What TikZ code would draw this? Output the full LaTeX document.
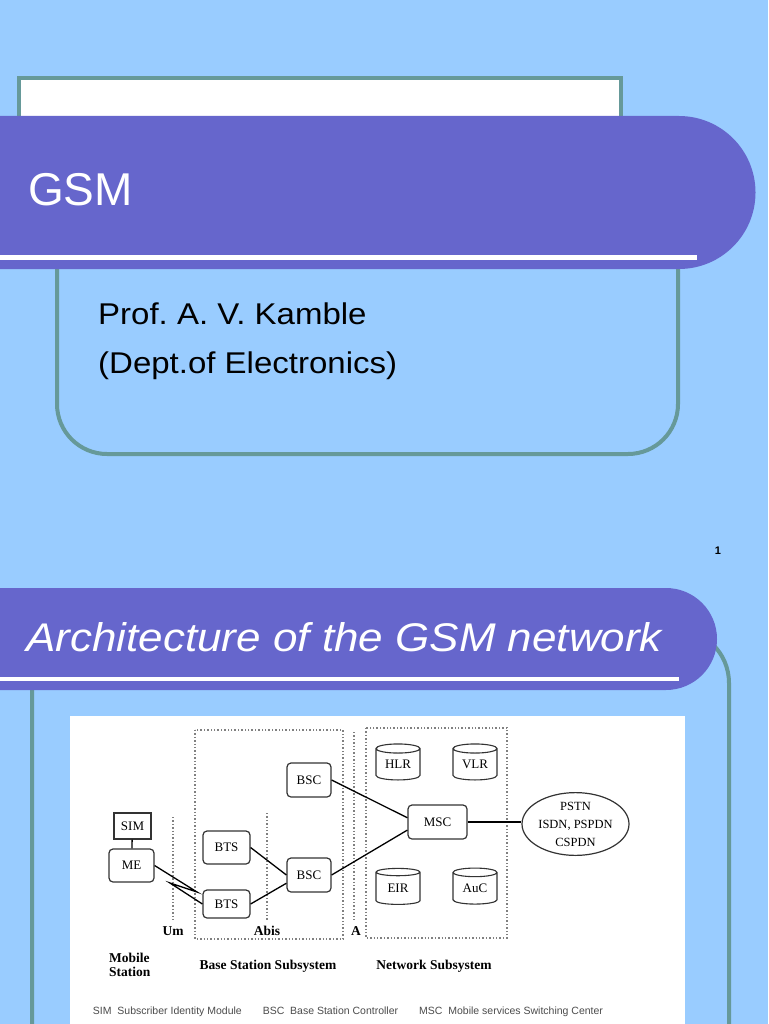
\documentclass[tikz,border=0pt]{standalone}
\usepackage{fontspec}
\setmainfont{Liberation Sans}
\newfontfamily\slidefont[FakeStretch=1.1]{Liberation Sans}
\newfontfamily\diagfont{Liberation Serif}
\usetikzlibrary{shapes.geometric}
\frenchspacing

\definecolor{slidebg}{HTML}{99CCFF}
\definecolor{bandblue}{HTML}{6666CC}
\definecolor{frameteal}{HTML}{669999}
\definecolor{diagline}{HTML}{333333}

\tikzset{
  unitbox/.style={draw=diagline, line width=1.2pt, rounded corners=4pt, fill=white,
    minimum width=44, minimum height=34, inner sep=0pt,
    font=\diagfont\fontsize{13}{15}\selectfont},
  dbcyl/.style={draw=diagline, line width=1.1pt, cylinder, shape border rotate=90,
    aspect=0.35, minimum width=44, minimum height=36, inner sep=0pt, fill=white,
    font=\diagfont\fontsize{13}{15}\selectfont},
  wire/.style={draw=black, line width=1.3pt},
  ifline/.style={draw=gray, line width=1.4pt, dotted},
  grouplabel/.style={font=\diagfont\bfseries\fontsize{13.5}{14.5}\selectfont, inner sep=0pt},
}

\begin{document}
\begin{tikzpicture}[x=1pt, y=-1pt]
    \useasboundingbox (0,0) rectangle (768,1024);
    \fill[slidebg] (0,0) rectangle (768,1024);

    % slide 1
    \draw[frameteal, line width=4pt, fill=white] (19,78) rectangle (621,200);
    \draw[frameteal, line width=4pt, fill=slidebg, rounded corners=50]
        (57,160) rectangle (678,454);
    \fill[bandblue] (0,116) -- (679,116)
        arc[start angle=-90, end angle=90, radius=76.5] -- (0,269) -- cycle;
    \fill[white] (0,255) rectangle (697,260);
    \node (gsm) [anchor=base west, inner sep=0pt, text=white,
        font=\fontsize{46}{50}\selectfont] at (28,206) {GSM};
    \node (prof) [anchor=base west, inner sep=0pt,
        font=\slidefont\fontsize{30}{34}\selectfont] at (98,324) {Prof. A. V. Kamble};
    \node (dept) [anchor=base west, inner sep=0pt,
        font=\slidefont\fontsize{30}{34}\selectfont] at (98,373) {(Dept.of Electronics)};
    \node (pageno) [inner sep=0pt, font=\bfseries\fontsize{11}{12}\selectfont]
        at (718,551) {1};

    % slide 2
    \draw[frameteal, line width=4pt, fill=slidebg, rounded corners=54]
        (32,629) rectangle (729,1100);
    \fill[bandblue] (0,588) -- (666,588)
        arc[start angle=-90, end angle=90, radius=51] -- (0,690) -- cycle;
    \fill[white] (0,677) rectangle (679,680.5);
    \node (title) [anchor=base west, inner sep=0pt, text=white,
        font=\slidefont\itshape\fontsize{40}{44}\selectfont] at (26,651)
        {Architecture of the GSM network};

    % the network picture
    \fill[white] (70,716) rectangle (685,1030);

    % subsystem frames and interfaces
    \draw[ifline] (195,730) rectangle (343,939);
    \draw[ifline] (366,728) rectangle (507,938);
    \draw[ifline] (354,732) -- (354,922);
    \draw[ifline] (173,817) -- (173,921);
    \draw[ifline] (267,813) -- (267,921);

    % units
    \node (sim) [unitbox, rounded corners=0pt, minimum width=37, minimum height=26]
        at (132.5,826) {SIM};
    \node (me) [unitbox, minimum width=45, minimum height=33] at (131.5,865.5) {ME};
    \node (bts1) [unitbox, minimum width=47, minimum height=33] at (226.5,847.5) {BTS};
    \node (bts2) [unitbox, minimum width=47, minimum height=28] at (226.5,904) {BTS};
    \node (bsc1) [unitbox] at (309,780) {BSC};
    \node (bsc2) [unitbox] at (309,875) {BSC};
    \node (msc) [unitbox, minimum width=59] at (437.5,822) {MSC};
    \node (hlr) [dbcyl] at (398,764.5) {HLR};
    \node (vlr) [dbcyl] at (475,764.5) {VLR};
    \node (eir) [dbcyl] at (398,888.5) {EIR};
    \node (auc) [dbcyl] at (475,888.5) {AuC};
    \node (pstn) [draw=diagline, line width=1.2pt, ellipse, minimum width=107,
        minimum height=62, inner sep=0pt, align=center,
        font=\diagfont\fontsize{12.5}{18}\selectfont]
        at (575.5,824) {PSTN\\ISDN, PSPDN\\CSPDN};

    % links
    \draw[wire] (sim) -- (me);
    \draw[wire] (me.east) -- (197,892) -- (170,883) -- (bts2.west);
    \draw[wire] (bts1.east) -- (bsc2.west);
    \draw[wire] (bts2.east) -- (bsc2.200);
    \draw[wire] (bsc1.east) -- (msc.172);
    \draw[wire] (bsc2.east) -- (msc.195);
    \draw[wire, line width=2.4pt] (msc.east) -- (msc.east -| pstn.west);

    % labels
    \node (um) [grouplabel] at (173,931) {Um};
    \node (abis) [grouplabel] at (267,931) {Abis};
    \node (aif) [grouplabel] at (356,931) {A};
    \node (ms) [grouplabel, anchor=west, align=left] at (109,965) {Mobile\\Station};
    \node (bss) [grouplabel] at (268,966) {Base Station Subsystem};
    \node (nss) [grouplabel] at (434,966) {Network Subsystem};
    \node (legend) [inner sep=0pt, text=black!70, font=\fontsize{10.5}{12}\selectfont]
        at (348,1012) {SIM\ \ Subscriber Identity Module\qquad BSC\ \ Base Station Controller\qquad MSC\ \ Mobile services Switching Center};
\end{tikzpicture}
\end{document}
